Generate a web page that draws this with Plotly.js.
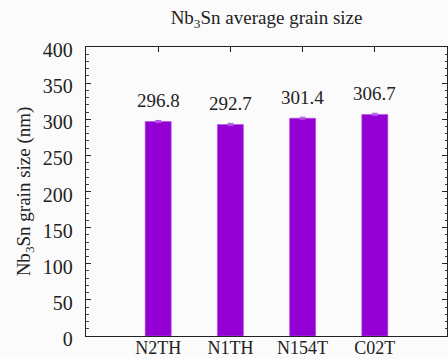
<!DOCTYPE html>
<html>
<head>
<meta charset="utf-8">
<script src="https://cdn.plot.ly/plotly-3.0.1.min.js"></script>
<style>html,body{margin:0;padding:0;background:#fbfbfb;}</style>
</head>
<body>
<div id="chart" style="width:448px;height:359px;"></div>
<script>
const categories = ["N2TH", "N1TH", "N154T", "C02T"];
const grainSize = [296.8, 292.7, 301.4, 306.7];
const grainErr = [1.5, 1.6, 1.5, 1.6];
const valueLabels = ["296.8", "292.7", "301.4", "306.7"];
const yTicks = [0, 50, 100, 150, 200, 250, 300, 350, 400];

const font = "'Liberation Serif', 'DejaVu Serif', serif";

const traces = [{
  type: "bar",
  x: categories,
  y: grainSize,
  width: 0.36,
  marker: {color: "#9400d3", line: {color: "#b050e8", width: 0.6}},
  error_y: {type: "data", array: grainErr, visible: true, color: "#b050e8", thickness: 1, width: 3},
  hoverinfo: "skip"
}, {
  type: "scatter", mode: "markers",
  x: categories, y: grainSize, xaxis: "x2",
  marker: {opacity: 0}, hoverinfo: "skip", showlegend: false
}];

const annotations = categories.map((c, i) => ({
  x: c, y: grainSize[i], xref: "x", yref: "y",
  text: valueLabels[i], showarrow: false, yanchor: "middle", yshift: 21,
  font: {family: font, size: 19, color: "#222"}
}));

const layout = {
  width: 448, height: 359,
  margin: {l: 86, r: 1, t: 47, b: 23},
  paper_bgcolor: "#fbfbfb", plot_bgcolor: "#fbfbfb",
  showlegend: false,
  font: {family: font, color: "#222"},
  title: {text: "Nb<sub>3</sub>Sn average grain size", x: 0.595, xanchor: "center", y: 0.952, yanchor: "middle",
          font: {family: font, size: 19, color: "#222"}},
  xaxis: {
    type: "category", range: [-1, 4], ticks: "", showline: true, mirror: true,
    linecolor: "#222", linewidth: 1.3, showgrid: false, zeroline: false,
    tickfont: {family: font, size: 18, color: "#222"}, ticklabelstandoff: -5
  },
  xaxis2: {
    type: "category", overlaying: "x", side: "top", range: [-1, 4], matches: "x",
    ticks: "inside", ticklen: 5, tickcolor: "#222", tickwidth: 1,
    showticklabels: false, showline: false, showgrid: false, zeroline: false
  },
  yaxis: {
    range: [0, 400], tickvals: yTicks, ticks: "inside", ticklen: 5, tickcolor: "#222",
    minor: {dtick: 10, ticks: "inside", ticklen: 2.5, tickcolor: "#444", showgrid: false},
    showline: true, mirror: "ticks", linecolor: "#222", linewidth: 1.3,
    showgrid: false, zeroline: false,
    tickfont: {family: font, size: 20, color: "#222"}, ticklabelstandoff: 8, ticklabelshift: 3,
    title: {text: "Nb<sub>3</sub>Sn grain size (nm)", standoff: 7, font: {family: font, size: 19, color: "#222"}}
  },
  annotations: annotations
};

Plotly.newPlot("chart", traces, layout, {displayModeBar: false, staticPlot: true});
</script>
</body>
</html>
